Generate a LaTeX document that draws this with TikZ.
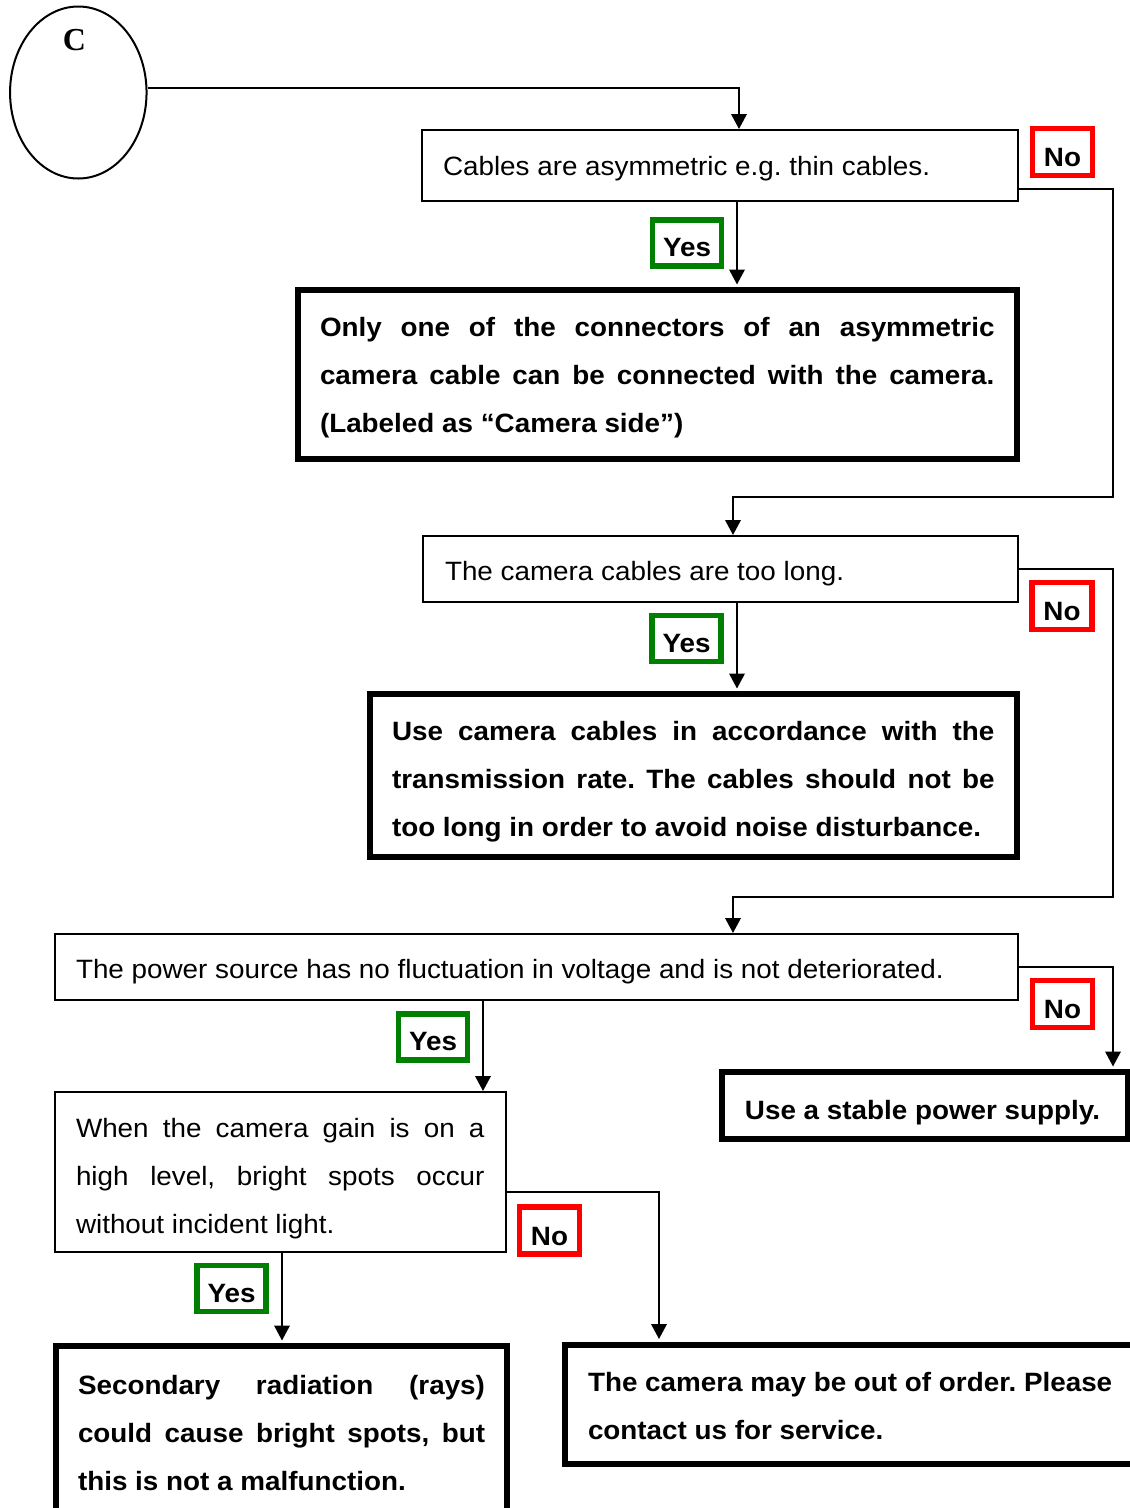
\documentclass[tikz,border=0pt]{standalone}
\usepackage{fontspec}
\setmainfont{Liberation Sans}[FakeStretch=1.05]
\newfontfamily\serifC{Liberation Serif}
\usetikzlibrary{arrows.meta,calc,shapes.geometric}
\frenchspacing

\definecolor{noRed}{RGB}{255,0,0}
\definecolor{yesGreen}{RGB}{0,128,0}

% one line of justified text spread over the full text width
\newcommand\jline[1]{\makebox[\hsize][s]{\spaceskip=0pt\xspaceskip=0pt\relax #1}}

\begin{document}
\begin{tikzpicture}[x=1pt,y=-1pt,
  box/.style={draw, line width=2pt, inner sep=0pt, align=justify,
    font=\fontsize{26.5}{48}\selectfont},
  thickbox/.style={box, line width=6pt,
    font=\bfseries\fontsize{26.5}{48}\selectfont},
  textdrop/.style={execute at begin node={\rule{0pt}{#1pt}}},
  nolabel/.style={draw=noRed, line width=5.5pt, minimum width=60pt,
    minimum height=47pt, inner sep=0pt, textdrop=29.3,
    font=\bfseries\fontsize{26.5}{30}\selectfont},
  yeslabel/.style={draw=yesGreen, line width=5.5pt, minimum width=69pt,
    minimum height=46pt, inner sep=0pt, textdrop=27.3,
    font=\bfseries\fontsize{26.5}{30}\selectfont},
  flow/.style={line width=2pt, -{Triangle[length=15pt,width=15.5pt]}},
  tothick/.style={flow, shorten >=2.5pt}
]
\useasboundingbox (0,0) rectangle (1130,1508);
\fill[white] (0,0) rectangle (1130,1508);

% connector start symbol
\node[ellipse, draw, line width=2pt, minimum width=136.5pt,
  minimum height=172pt, inner sep=0pt] (C) at (78.3,92.5) {};
\node[font=\serifC\bfseries\fontsize{32}{34}\selectfont, inner sep=0pt]
  (Ctext) at (74.5,40) {C};

% check and action boxes
\node[box, minimum width=596pt, minimum height=71pt, text width=553pt,
  textdrop=25.5] (b1) at (719.5,165.5) {Cables are asymmetric e.g. thin cables.};
\node[thickbox, minimum width=719.5pt, minimum height=168.5pt, text width=674.5pt,
  textdrop=26.3] (b2) at (657.25,374.25)
  {\jline{Only one of the connectors of an asymmetric}\\
   \jline{camera cable can be connected with the camera.}\\
   (Labeled as “Camera side”)};
\node[box, minimum width=594.5pt, minimum height=65.5pt, text width=550.5pt,
  textdrop=29.3] (b3) at (720.25,568.75) {The camera cables are too long.};
\node[thickbox, minimum width=647.5pt, minimum height=163pt, text width=602.5pt,
  textdrop=31.3] (b4) at (693.25,775.5)
  {\jline{Use camera cables in accordance with the}\\
   \jline{transmission rate. The cables should not be}\\
   too long in order to avoid noise disturbance.};
\node[box, minimum width=962.5pt, minimum height=65.5pt, text width=920.5pt,
  textdrop=29.3] (b5) at (536.25,966.75)
  {The power source has no fluctuation in voltage and is not deteriorated.};
\node[thickbox, minimum width=406pt, minimum height=67pt, textdrop=33.3]
  (b6) at (925,1105.5) {Use a stable power supply.\hspace*{5pt}};
\node[box, minimum width=450.5pt, minimum height=159.5pt, text width=408.5pt,
  textdrop=33.3] (b7) at (280.25,1171.75)
  {\jline{When the camera gain is on a}\\
   \jline{high level, bright spots occur}\\
   without incident light.};
\node[thickbox, minimum width=451pt, minimum height=174pt, text width=407pt]
  (b8) at (281.5,1433)
  {\jline{Secondary radiation (rays)}\\
   \jline{could cause bright spots, but}\\
   this is not a malfunction.};
\node[thickbox, minimum width=585pt, minimum height=119.5pt, text width=539pt,
  textdrop=23.3] (b9) at (857.5,1404.25)
  {The camera may be out of order. Please\\
   contact us for service.};

% answer labels
\node[nolabel] (no1) at (1062.5,152) {No};
\node[nolabel] (no2) at (1062,606) {No};
\node[nolabel] (no3) at (1062.5,1004) {No};
\node[nolabel] (no4) at (549.5,1230.5) {No};
\node[yeslabel] (yes1) at (687,243) {Yes};
\node[yeslabel] (yes2) at (686.5,638.5) {Yes};
\node[yeslabel] (yes3) at (433,1037) {Yes};
\node[yeslabel] (yes4) at (231.5,1288.5) {Yes};

% routing columns and bends
\coordinate (xin) at (739,0);
\coordinate (xyes) at (737,0);
\coordinate (xback) at (733,0);
\coordinate (xyes3) at (483,0);
\coordinate (xyes4) at (282,0);
\coordinate (xno4) at (659,0);
\coordinate (ra) at (1113,497);
\coordinate (rb) at (1113,897);

% connectors
\draw[flow] ($(C.east)+(0,-5)$) -| (b1.north -| xin);
\draw[tothick] (b1.south -| xyes) -- (b2.north -| xyes);
\draw[flow] ([yshift=-23.5pt]b1.east) -| (ra) -| (b3.north -| xback);
\draw[tothick] (b3.south -| xyes) -- (b4.north -| xyes);
\draw[flow] (b3.east) -| (rb) -| (b5.north -| xback);
\draw[flow] (b5.south -| xyes3) -- (b7.north -| xyes3);
\draw[tothick] (b5.east) -| (b6.north -| rb);
\draw[tothick] (b7.south -| xyes4) -- (b8.north -| xyes4);
\draw[tothick] ([yshift=-20.25pt]b7.east) -| (b9.north -| xno4);
\end{tikzpicture}
\end{document}
